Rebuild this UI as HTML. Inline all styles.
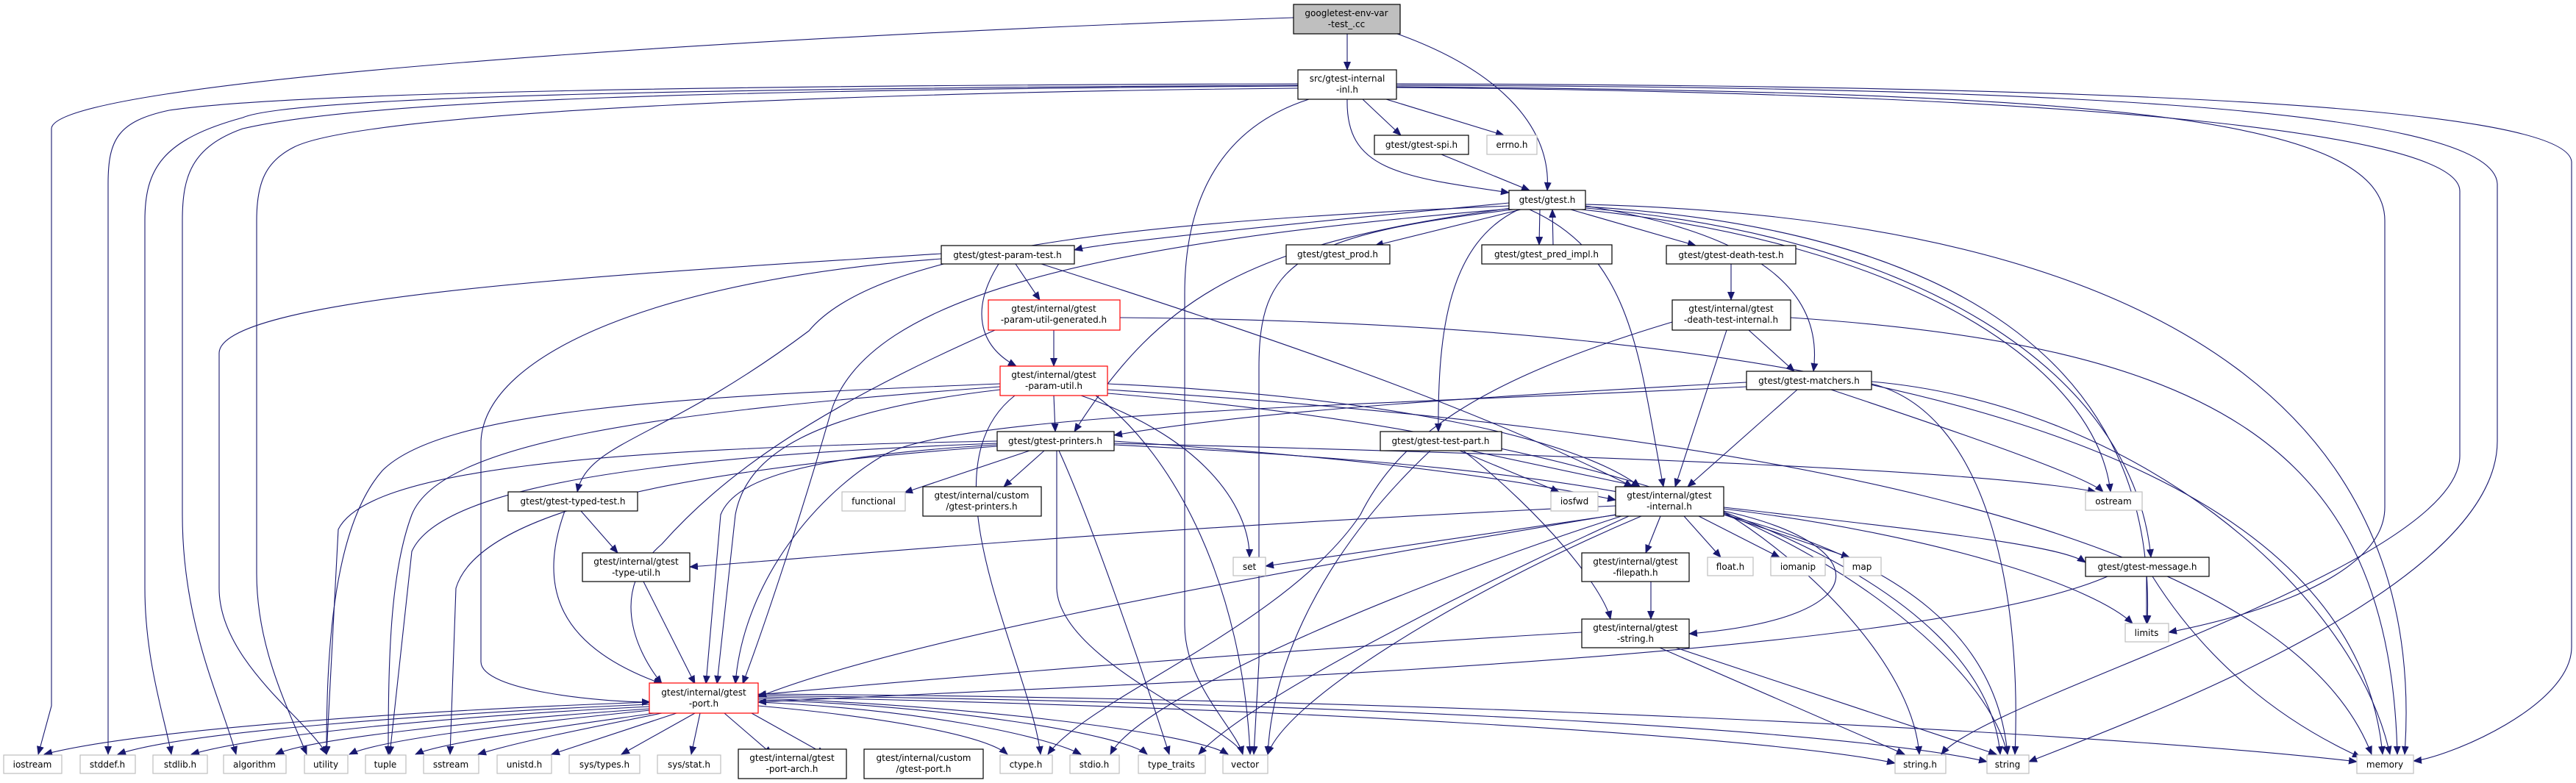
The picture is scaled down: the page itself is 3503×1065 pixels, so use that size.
<!DOCTYPE html>
<html><head><meta charset="utf-8"><style>
html,body{margin:0;padding:0;background:#fff;width:3503px;height:1065px;overflow:hidden}
svg{display:block}
text{font-family:"DejaVu Sans","Liberation Sans",sans-serif;font-size:12px;fill:#000}
.e{fill:none;stroke:#191970;stroke-width:1.1}
.b rect{fill:#fff;stroke:#000;stroke-width:1.2}
.g rect{fill:#fff;stroke:#bfbfbf;stroke-width:1.2}
.r rect{fill:#fff;stroke:#ff0000;stroke-width:1.2}
</style></head><body>
<svg width="3503" height="1065" viewBox="0 0 3503 1065" xmlns="http://www.w3.org/2000/svg">
<defs><marker id="a" markerWidth="12" markerHeight="10" refX="11" refY="5" orient="auto" markerUnits="userSpaceOnUse"><path d="M0,0 L12,5 L0,10 z" fill="#191970"/></marker></defs>
<g class="e" marker-end="url(#a)">
<!-- env -->
<path d="M1759,24 C1000,50 72,110 70,175 L70,960 L52,1026"/>
<path d="M1832,46 L1832,95"/>
<path d="M1900,46 C2050,100 2110,180 2104,259"/>
<!-- inl -->
<path d="M1765,114 C1000,116 400,125 230,150 C160,165 147,190 147,250 L147,1026"/>
<path d="M1765,116 C1000,120 400,130 330,160 C220,190 197,230 197,300 L197,800 C197,900 225,980 233,1026"/>
<path d="M1765,117 C1000,122 500,135 330,175 C260,200 248,240 248,300 L248,700 C248,850 300,950 321,1026"/>
<path d="M1765,120 C1200,125 500,150 400,200 C360,220 349,250 349,300 L349,780 C349,880 390,960 417,1026"/>
<path d="M1780,135 C1640,180 1611,300 1611,400 L1611,850 C1611,930 1680,990 1690,1026"/>
<path d="M1853,135 L1905,184"/>
<path d="M1885,135 L2045,184"/>
<path d="M1832,135 C1830,230 1900,240 2052,262"/>
<path d="M1899,114 C2800,116 3490,140 3497,220 L3497,880 C3497,960 3330,1030 3282,1035"/>
<path d="M1899,116 C2700,118 3390,140 3396,250 L3396,600 C3396,800 2900,980 2759,1036"/>
<path d="M1899,118 C2800,125 3243,150 3243,300 L3243,690 C3243,800 3000,850 2949,860"/>
<path d="M1899,119 C2700,125 3345,170 3345,260 L3345,620 C3345,770 2700,950 2640,1026"/>
<!-- spi -->
<path d="M1960,210 L2080,259"/>
<!-- gtest.h -->
<path d="M2052,276 C1800,300 1500,330 1461,340"/>
<path d="M2068,285 L1870,334"/>
<path d="M2094,285 L2093,333"/>
<path d="M2112,333 L2111,285"/>
<path d="M2136,285 L2306,334"/>
<path d="M2156,280 C2400,320 2480,400 2466,505"/>
<path d="M2065,285 C1970,330 1955,450 1956,587"/>
<path d="M2080,285 C2225,350 2230,500 2262,662"/>
<path d="M2056,283 C1700,330 1580,400 1461,587"/>
<path d="M2052,280 C1600,300 1200,330 1100,450 C900,600 800,600 785,669"/>
<path d="M2156,283 C2600,320 2900,500 2925,758"/>
<path d="M2058,285 C1760,320 1712,360 1712,500 L1712,900 L1705,1026"/>
<path d="M2150,285 C2600,330 2850,500 2870,669"/>
<path d="M2156,278 C3000,300 3300,600 3270,1026"/>
<path d="M2156,281 C2800,320 2930,600 2920,848"/>
<path d="M2053,284 C1500,330 1180,400 1130,560 C1090,700 1040,850 1010,930"/>
<!-- ptest -->
<path d="M1381,359 L1414,408"/>
<path d="M1358,359 C1320,420 1330,470 1382,498"/>
<path d="M1416,359 C1700,450 2000,550 2220,662"/>
<path d="M1280,352 C900,380 660,480 654,600 L654,900 C654,940 820,955 884,955"/>
<path d="M1280,345 C900,370 300,400 298,480 L298,800 C298,900 420,980 444,1026"/>
<!-- gen -->
<path d="M1433,449 L1433,498"/>
<path d="M1353,449 C1100,560 980,650 900,740 C830,800 860,880 900,930"/>
<path d="M1523,432 C2500,440 3200,600 3240,1026"/>
<!-- putil -->
<path d="M1360,522 C900,540 600,560 520,640 C450,720 444,900 444,1026"/>
<path d="M1360,526 C900,560 600,600 560,700 C530,780 528,900 528,1026"/>
<path d="M1360,530 C1100,560 1015,620 1000,700 L975,930"/>
<path d="M1433,538 L1435,587"/>
<path d="M1506,522 C1900,540 2150,600 2230,662"/>
<path d="M1470,538 C1650,600 1700,700 1699,758"/>
<path d="M1490,538 C1600,620 1690,800 1700,1026"/>
<path d="M1380,538 C1250,640 1400,900 1415,1026"/>
<path d="M1506,530 C2300,580 3100,700 3225,1026"/>
<path d="M1506,535 C2300,600 2700,800 2720,1026"/>
<!-- printers -->
<path d="M1400,613 L1230,670"/>
<path d="M1420,613 L1365,662"/>
<path d="M1515,600 C1800,620 2000,640 2197,680"/>
<path d="M1356,605 C1100,620 1000,650 980,700 L960,930"/>
<path d="M1356,600 C800,610 500,640 460,720 L444,1026"/>
<path d="M1356,603 C900,620 600,660 560,750 L530,1026"/>
<path d="M1356,607 C900,640 650,700 620,800 L612,1026"/>
<path d="M1437,613 L1437,800 C1440,900 1680,990 1690,1026"/>
<path d="M1440,613 C1480,700 1550,900 1590,1026"/>
<path d="M1515,605 C2200,640 2700,700 2730,1026"/>
<path d="M1515,603 C2200,620 2700,640 2850,669"/>
<!-- internal -->
<path d="M2197,688 C1500,720 1100,760 938,771"/>
<path d="M2200,700 L1721,770"/>
<path d="M2197,700 C1600,800 1200,880 1031,948"/>
<path d="M2258,702 L2238,752"/>
<path d="M2290,702 L2340,758"/>
<path d="M2310,702 L2420,758"/>
<path d="M2344,700 L2515,758"/>
<path d="M2344,690 C2600,720 2800,740 2836,765"/>
<path d="M2344,692 C2650,730 2850,800 2900,848"/>
<path d="M2344,695 C2550,740 2560,840 2297,862"/>
<path d="M2344,696 C2450,760 2600,900 2610,1026"/>
<path d="M2344,698 C2500,760 2700,900 2730,1026"/>
<path d="M2232,702 C2000,800 1750,950 1724,1026"/>
<path d="M2215,702 C2000,800 1700,950 1630,1026"/>
<path d="M2205,702 C1900,800 1550,950 1510,1026"/>
<!-- dti -->
<path d="M2274,438 C2000,520 1900,600 1850,700 C1750,850 1480,950 1425,1026"/>
<path d="M2348,449 L2278,662"/>
<path d="M2378,449 L2440,505"/>
<path d="M2435,432 C3000,470 3250,600 3260,1026"/>
<path d="M2354,359 L2354,408"/>
<!-- match -->
<path d="M2375,520 C2000,540 1700,560 1515,592"/>
<path d="M2444,530 L2295,662"/>
<path d="M2490,530 C2700,600 2840,650 2860,669"/>
<path d="M2545,522 C2700,560 2750,800 2740,1026"/>
<path d="M2545,519 C2900,550 3200,800 3250,1026"/>
<path d="M2375,526 C1900,550 1300,560 1200,620 C1100,680 1010,800 1000,930"/>
<!-- tpart -->
<path d="M2000,613 L2230,662"/>
<path d="M1985,613 L2120,669"/>
<path d="M1990,613 C2100,700 2180,800 2190,842"/>
<path d="M1945,613 C1800,750 1730,900 1724,1026"/>
<!-- typed / tutil / filepath -->
<path d="M790,695 L840,752"/>
<path d="M768,695 C730,800 760,880 900,930"/>
<path d="M875,791 L945,930"/>
<path d="M2245,791 L2245,842"/>
<!-- gstring -->
<path d="M2151,860 C1800,880 1300,920 1031,945"/>
<path d="M2257,881 L2590,1026"/>
<path d="M2279,881 L2715,1026"/>
<!-- message -->
<path d="M2866,784 C2600,900 1500,930 1031,955"/>
<path d="M2919,784 L2919,848"/>
<path d="M2927,784 C3000,900 3100,980 3210,1030"/>
<!-- port -->
<path d="M884,955 C600,965 200,990 60,1026"/>
<path d="M884,958 C600,970 250,995 160,1026"/>
<path d="M884,961 C600,975 350,1000 260,1026"/>
<path d="M884,964 C650,980 420,1005 375,1026"/>
<path d="M884,966 C700,985 520,1005 475,1026"/>
<path d="M890,970 C750,990 600,1010 565,1026"/>
<path d="M900,970 C800,990 700,1010 650,1026"/>
<path d="M920,970 L750,1026"/>
<path d="M945,970 L845,1026"/>
<path d="M952,970 L940,1026"/>
<path d="M985,970 L1050,1026"/>
<path d="M1022,970 L1122,1026"/>
<path d="M1031,960 C1200,975 1340,1000 1370,1026"/>
<path d="M1031,955 C1250,965 1420,1000 1470,1026"/>
<path d="M1031,952 C1300,960 1530,1000 1560,1026"/>
<path d="M1031,950 C1300,958 1620,995 1670,1026"/>
<path d="M1031,948 C1700,960 2400,1000 2577,1038"/>
<path d="M1031,946 C1800,955 2500,990 2702,1036"/>
<path d="M1031,944 C2000,950 2900,1000 3205,1036"/>
</g>
<!-- nodes -->
<g text-anchor="middle">
<g><rect x="1759" y="6" width="145" height="40" fill="#bfbfbf" stroke="#000" stroke-width="1.2"/><text x="1831" y="22">googletest-env-var</text><text x="1831" y="37">-test_.cc</text></g>
<g class="b"><rect x="1765" y="95" width="134" height="40"/><text x="1832" y="111">src/gtest-internal</text><text x="1832" y="126">-inl.h</text></g>
<g class="b"><rect x="1869" y="184" width="128" height="26"/><text x="1933" y="201">gtest/gtest-spi.h</text></g>
<g class="g"><rect x="2022" y="184" width="68" height="26"/><text x="2056" y="201">errno.h</text></g>
<g class="b"><rect x="2052" y="259" width="104" height="26"/><text x="2104" y="276">gtest/gtest.h</text></g>
<g class="b"><rect x="1749" y="333" width="141" height="26"/><text x="1819" y="350">gtest/gtest_prod.h</text></g>
<g class="b"><rect x="2015" y="333" width="177" height="26"/><text x="2103" y="350">gtest/gtest_pred_impl.h</text></g>
<g class="b"><rect x="2266" y="334" width="176" height="25"/><text x="2354" y="351">gtest/gtest-death-test.h</text></g>
<g class="b"><rect x="1280" y="334" width="181" height="25"/><text x="1370" y="351">gtest/gtest-param-test.h</text></g>
<g class="r"><rect x="1344" y="408" width="179" height="41"/><text x="1433" y="424">gtest/internal/gtest</text><text x="1433" y="439">-param-util-generated.h</text></g>
<g class="b"><rect x="2274" y="408" width="161" height="41"/><text x="2354" y="424">gtest/internal/gtest</text><text x="2354" y="439">-death-test-internal.h</text></g>
<g class="r"><rect x="1360" y="498" width="146" height="40"/><text x="1433" y="514">gtest/internal/gtest</text><text x="1433" y="529">-param-util.h</text></g>
<g class="b"><rect x="2375" y="505" width="170" height="25"/><text x="2460" y="522">gtest/gtest-matchers.h</text></g>
<g class="b"><rect x="1356" y="587" width="159" height="26"/><text x="1435" y="604">gtest/gtest-printers.h</text></g>
<g class="b"><rect x="1877" y="587" width="165" height="26"/><text x="1959" y="604">gtest/gtest-test-part.h</text></g>
<g class="b"><rect x="691" y="669" width="176" height="26"/><text x="779" y="686">gtest/gtest-typed-test.h</text></g>
<g class="g"><rect x="1145" y="669" width="86" height="26"/><text x="1188" y="686">functional</text></g>
<g class="b"><rect x="1255" y="662" width="161" height="40"/><text x="1335" y="678">gtest/internal/custom</text><text x="1335" y="693">/gtest-printers.h</text></g>
<g class="g"><rect x="2109" y="669" width="64" height="26"/><text x="2141" y="686">iosfwd</text></g>
<g class="b"><rect x="2197" y="662" width="147" height="40"/><text x="2270" y="678">gtest/internal/gtest</text><text x="2270" y="693">-internal.h</text></g>
<g class="g"><rect x="2836" y="669" width="77" height="25"/><text x="2874" y="686">ostream</text></g>
<g class="b"><rect x="792" y="752" width="146" height="39"/><text x="865" y="768">gtest/internal/gtest</text><text x="865" y="783">-type-util.h</text></g>
<g class="g"><rect x="1677" y="758" width="44" height="25"/><text x="1699" y="775">set</text></g>
<g class="b"><rect x="2151" y="752" width="146" height="39"/><text x="2224" y="768">gtest/internal/gtest</text><text x="2224" y="783">-filepath.h</text></g>
<g class="g"><rect x="2322" y="758" width="62" height="25"/><text x="2353" y="775">float.h</text></g>
<g class="g"><rect x="2408" y="758" width="74" height="25"/><text x="2445" y="775">iomanip</text></g>
<g class="g"><rect x="2507" y="758" width="51" height="25"/><text x="2532" y="775">map</text></g>
<g class="b"><rect x="2836" y="758" width="168" height="26"/><text x="2920" y="775">gtest/gtest-message.h</text></g>
<g class="b"><rect x="2151" y="842" width="146" height="39"/><text x="2224" y="858">gtest/internal/gtest</text><text x="2224" y="873">-string.h</text></g>
<g class="g"><rect x="2890" y="848" width="59" height="25"/><text x="2919" y="865">limits</text></g>
<g class="r"><rect x="883" y="929" width="148" height="41"/><text x="957" y="946">gtest/internal/gtest</text><text x="957" y="961">-port.h</text></g>
<g class="g"><rect x="5" y="1027" width="79" height="25"/><text x="44" y="1044">iostream</text></g>
<g class="g"><rect x="109" y="1027" width="75" height="25"/><text x="146" y="1044">stddef.h</text></g>
<g class="g"><rect x="208" y="1027" width="74" height="25"/><text x="245" y="1044">stdlib.h</text></g>
<g class="g"><rect x="304" y="1027" width="85" height="25"/><text x="346" y="1044">algorithm</text></g>
<g class="g"><rect x="414" y="1027" width="59" height="25"/><text x="443" y="1044">utility</text></g>
<g class="g"><rect x="497" y="1027" width="55" height="25"/><text x="524" y="1044">tuple</text></g>
<g class="g"><rect x="576" y="1027" width="75" height="25"/><text x="613" y="1044">sstream</text></g>
<g class="g"><rect x="676" y="1027" width="74" height="25"/><text x="713" y="1044">unistd.h</text></g>
<g class="g"><rect x="774" y="1027" width="96" height="25"/><text x="822" y="1044">sys/types.h</text></g>
<g class="g"><rect x="894" y="1027" width="86" height="25"/><text x="937" y="1044">sys/stat.h</text></g>
<g class="b"><rect x="1004" y="1019" width="147" height="40"/><text x="1077" y="1035">gtest/internal/gtest</text><text x="1077" y="1050">-port-arch.h</text></g>
<g class="b"><rect x="1175" y="1019" width="162" height="40"/><text x="1256" y="1035">gtest/internal/custom</text><text x="1256" y="1050">/gtest-port.h</text></g>
<g class="g"><rect x="1360" y="1027" width="71" height="25"/><text x="1395" y="1044">ctype.h</text></g>
<g class="g"><rect x="1455" y="1027" width="67" height="25"/><text x="1488" y="1044">stdio.h</text></g>
<g class="g"><rect x="1548" y="1027" width="91" height="25"/><text x="1593" y="1044">type_traits</text></g>
<g class="g"><rect x="1663" y="1027" width="61" height="25"/><text x="1693" y="1044">vector</text></g>
<g class="g"><rect x="2577" y="1027" width="69" height="25"/><text x="2611" y="1044">string.h</text></g>
<g class="g"><rect x="2702" y="1027" width="57" height="25"/><text x="2730" y="1044">string</text></g>
<g class="g"><rect x="3205" y="1027" width="77" height="25"/><text x="3243" y="1044">memory</text></g>
</g>
</svg>
</body></html>
